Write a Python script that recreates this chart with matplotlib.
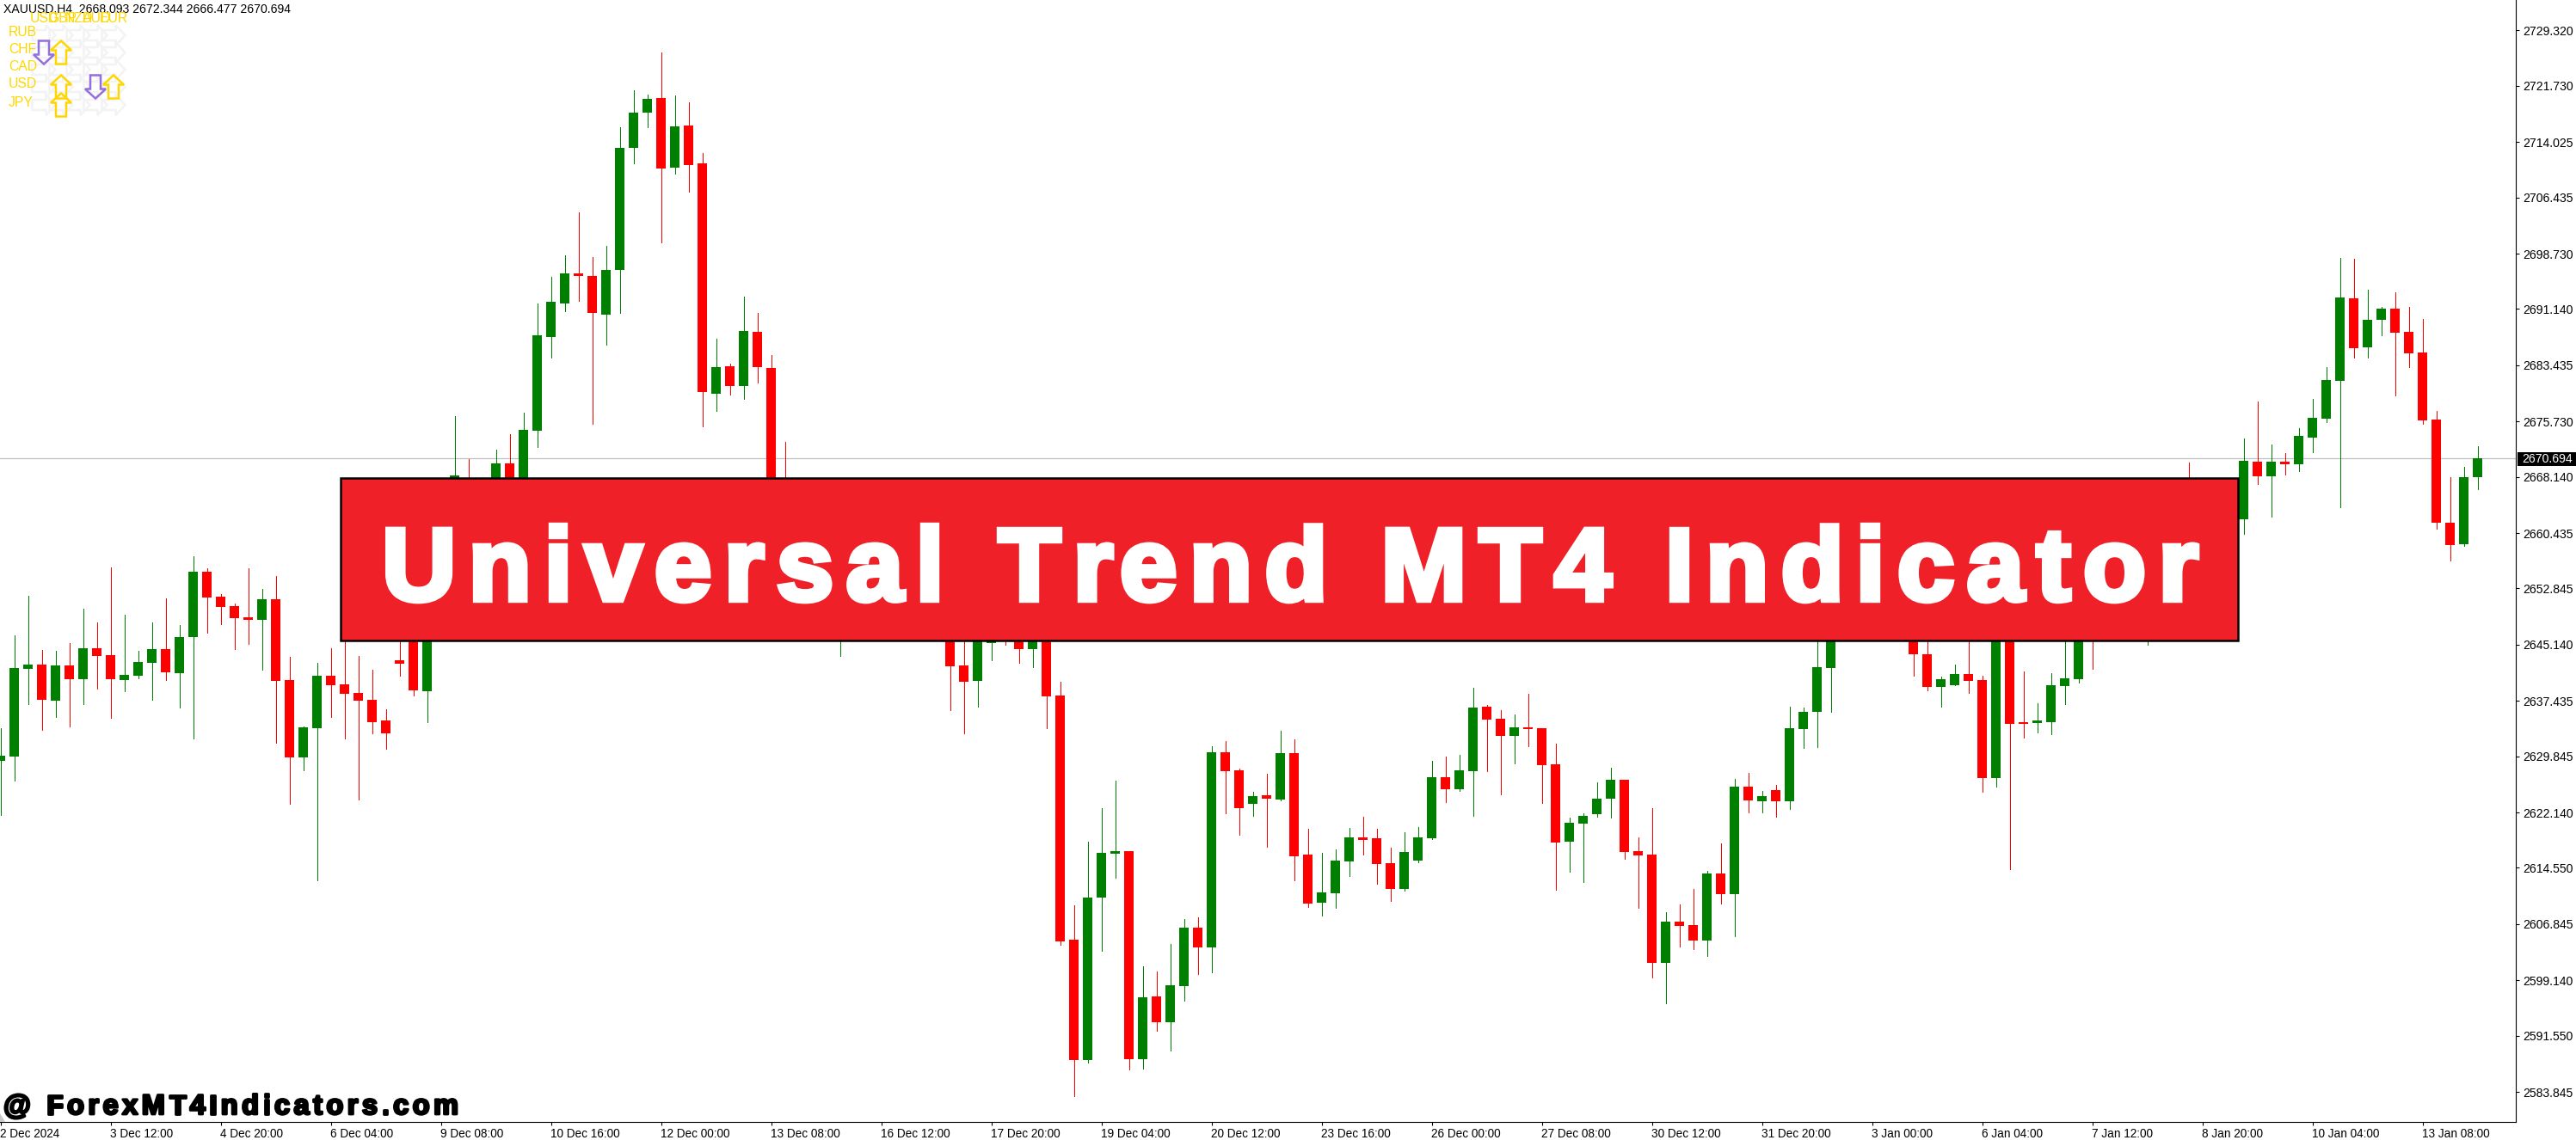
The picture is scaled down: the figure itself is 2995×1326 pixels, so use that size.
import numpy as np
import matplotlib
matplotlib.use("Agg")
import matplotlib.pyplot as plt
from matplotlib.patches import Rectangle, Polygon
import matplotlib.patheffects as pe

W, H = 2995, 1326

# candle values, one row = 10 bars
highs = [
    2633.69, 2646.41, 2651.83, 2644.41, 2644.29, 2645.35, 2650.07, 2648.18, 2655.72, 2649.24,
    2644.29, 2648.18, 2651.48, 2647.83, 2657.25, 2655.60, 2652.07, 2650.77, 2655.60, 2652.78,
    2654.54, 2643.47, 2633.92, 2642.64, 2644.65, 2646.88, 2643.59, 2641.70, 2636.28, 2648.30,
    2651.60, 2651.01, 2652.19, 2676.46, 2670.57, 2662.79, 2671.86, 2673.99, 2676.93, 2691.90,
    2695.55, 2698.49, 2704.39, 2698.26, 2699.79, 2716.05, 2721.12, 2720.53, 2726.30, 2720.41,
    2719.47, 2712.52, 2687.06, 2683.65, 2692.84, 2690.60, 2684.83, 2672.93, 2658.08, 2655.72,
    2654.54, 2653.37, 2653.37, 2655.72, 2656.90, 2655.72, 2654.54, 2653.37, 2653.37, 2651.01,
    2646.88, 2649.83, 2648.65, 2649.83, 2651.01, 2651.01, 2652.19, 2640.05, 2609.41, 2618.13,
    2622.73, 2626.50, 2616.84, 2601.05, 2600.34, 2604.11, 2607.53, 2607.76, 2631.21, 2631.92,
    2628.15, 2624.97, 2627.44, 2633.33, 2632.16, 2619.90, 2616.60, 2617.07, 2620.02, 2621.55,
    2619.90, 2617.31, 2619.43, 2620.14, 2629.21, 2629.80, 2630.04, 2639.23, 2636.87, 2636.16,
    2635.57, 2638.40, 2633.69, 2631.57, 2621.43, 2622.02, 2626.26, 2628.27, 2626.62, 2618.72,
    2622.73, 2608.47, 2609.53, 2611.65, 2614.13, 2617.90, 2626.74, 2627.56, 2625.09, 2625.91,
    2636.63, 2636.52, 2647.47, 2652.19, 2653.37, 2655.13, 2656.90, 2658.08, 2658.08, 2653.37,
    2651.01, 2640.76, 2642.41, 2647.47, 2640.88, 2648.65, 2648.65, 2641.46, 2637.11, 2641.23,
    2648.65, 2652.19, 2653.37, 2653.37, 2655.72, 2656.90, 2659.26, 2660.44, 2661.61, 2670.10,
    2666.33, 2666.33, 2667.51, 2673.40, 2678.46, 2672.57, 2671.39, 2674.81, 2678.82, 2683.18,
    2698.14, 2698.02, 2693.78, 2691.42, 2693.43, 2691.42, 2689.78, 2677.17, 2668.09, 2669.51,
    2672.344,
]
body_top = [
    2629.92, 2641.94, 2642.41, 2642.41, 2642.29, 2642.29, 2644.65, 2644.65, 2643.70, 2640.99,
    2642.76, 2644.53, 2644.53, 2646.18, 2655.13, 2655.13, 2651.72, 2650.42, 2648.89, 2651.36,
    2651.36, 2640.29, 2633.81, 2640.88, 2640.88, 2639.70, 2638.52, 2637.58, 2634.75, 2643.00,
    2651.01, 2649.24, 2651.01, 2668.33, 2663.97, 2662.20, 2669.98, 2669.98, 2674.57, 2687.54,
    2692.13, 2696.02, 2696.02, 2695.67, 2696.49, 2713.22, 2718.05, 2719.94, 2720.06, 2716.17,
    2716.29, 2711.10, 2683.18, 2683.29, 2688.13, 2688.01, 2683.06, 2660.44, 2656.90, 2654.54,
    2653.37, 2652.19, 2652.19, 2654.54, 2655.72, 2654.54, 2653.37, 2652.19, 2651.01, 2649.83,
    2642.29, 2648.65, 2645.82, 2648.65, 2648.65, 2649.24, 2651.01, 2638.17, 2604.70, 2610.48,
    2616.60, 2616.84, 2616.84, 2596.81, 2596.92, 2598.46, 2606.35, 2606.35, 2630.39, 2630.39,
    2627.91, 2624.38, 2624.50, 2630.27, 2630.27, 2616.37, 2611.18, 2615.54, 2618.72, 2618.72,
    2618.61, 2615.19, 2616.72, 2618.72, 2626.97, 2626.97, 2627.91, 2636.52, 2636.63, 2634.98,
    2633.81, 2633.81, 2633.69, 2628.74, 2620.73, 2621.67, 2624.03, 2626.62, 2626.62, 2616.84,
    2616.37, 2607.18, 2607.18, 2606.70, 2613.77, 2613.77, 2625.68, 2625.68, 2624.38, 2625.20,
    2633.69, 2635.93, 2642.05, 2648.65, 2652.19, 2653.37, 2655.72, 2656.31, 2656.90, 2649.83,
    2643.82, 2640.40, 2641.11, 2641.11, 2640.29, 2647.47, 2647.47, 2634.51, 2634.75, 2639.58,
    2640.52, 2651.01, 2651.01, 2652.19, 2654.54, 2655.72, 2658.08, 2659.26, 2660.44, 2663.97,
    2665.15, 2665.15, 2666.33, 2670.33, 2670.22, 2670.22, 2670.22, 2673.75, 2676.22, 2681.41,
    2692.72, 2692.60, 2689.66, 2691.19, 2691.19, 2688.01, 2685.18, 2675.99, 2661.85, 2668.09,
    2670.694,
]
body_bot = [
    2629.21, 2629.80, 2641.82, 2637.58, 2637.46, 2640.40, 2640.40, 2643.59, 2640.40, 2640.29,
    2640.88, 2642.64, 2641.35, 2641.23, 2646.18, 2651.60, 2650.30, 2648.77, 2648.53, 2648.53,
    2640.17, 2629.68, 2629.68, 2633.69, 2639.58, 2638.40, 2637.46, 2634.51, 2632.98, 2642.53,
    2638.87, 2638.75, 2648.65, 2662.79, 2661.61, 2659.85, 2665.15, 2666.33, 2665.74, 2674.46,
    2687.30, 2691.90, 2695.67, 2690.60, 2690.36, 2696.49, 2713.22, 2718.05, 2710.40, 2710.51,
    2710.87, 2679.76, 2679.52, 2680.58, 2680.58, 2683.18, 2659.26, 2656.31, 2654.54, 2652.19,
    2651.01, 2647.47, 2651.01, 2651.01, 2652.19, 2652.19, 2651.01, 2648.65, 2647.47, 2642.17,
    2640.05, 2640.17, 2645.35, 2646.88, 2644.53, 2644.53, 2638.05, 2604.47, 2588.21, 2588.21,
    2610.48, 2616.48, 2588.32, 2588.32, 2593.39, 2593.39, 2598.34, 2603.64, 2603.64, 2627.80,
    2622.73, 2623.32, 2624.03, 2623.91, 2616.13, 2609.65, 2609.77, 2611.06, 2615.42, 2618.37,
    2615.07, 2611.65, 2611.65, 2615.54, 2618.61, 2625.32, 2625.32, 2627.80, 2634.87, 2632.63,
    2632.63, 2633.57, 2628.62, 2618.02, 2618.13, 2620.61, 2621.90, 2624.03, 2616.72, 2616.25,
    2601.52, 2601.52, 2606.59, 2604.58, 2604.58, 2610.95, 2610.95, 2623.79, 2623.67, 2623.67,
    2623.67, 2633.57, 2635.93, 2641.94, 2648.65, 2651.01, 2652.19, 2655.13, 2652.19, 2643.82,
    2639.34, 2639.34, 2639.58, 2640.17, 2626.85, 2626.85, 2634.28, 2634.28, 2634.39, 2634.51,
    2639.46, 2640.40, 2647.47, 2648.65, 2651.01, 2653.37, 2654.54, 2656.90, 2658.08, 2661.61,
    2662.79, 2662.79, 2662.79, 2662.32, 2668.21, 2668.21, 2669.86, 2669.86, 2673.51, 2676.11,
    2681.29, 2685.77, 2685.89, 2689.66, 2687.89, 2685.06, 2675.87, 2661.85, 2658.79, 2658.90,
    2668.093,
]
lows = [
    2621.79, 2626.50, 2636.99, 2633.45, 2635.22, 2633.92, 2636.99, 2639.11, 2635.10, 2638.75,
    2640.52, 2637.58, 2640.29, 2636.52, 2632.27, 2646.77, 2647.94, 2644.53, 2645.23, 2641.70,
    2631.68, 2623.32, 2627.91, 2612.83, 2635.22, 2632.27, 2623.91, 2632.98, 2630.86, 2640.88,
    2638.17, 2634.51, 2647.47, 2658.08, 2659.26, 2658.08, 2663.97, 2664.56, 2663.97, 2672.22,
    2684.47, 2690.84, 2692.25, 2675.40, 2686.24, 2690.60, 2711.10, 2716.05, 2700.26, 2709.69,
    2707.21, 2675.05, 2677.17, 2679.41, 2678.82, 2681.06, 2656.90, 2653.37, 2652.19, 2651.01,
    2648.65, 2643.59, 2648.65, 2648.65, 2651.01, 2650.42, 2648.65, 2646.88, 2645.71, 2636.16,
    2632.98, 2636.63, 2643.00, 2645.12, 2642.64, 2642.05, 2633.69, 2603.99, 2583.26, 2587.85,
    2603.17, 2613.18, 2586.91, 2587.03, 2592.21, 2589.50, 2596.34, 2599.99, 2600.22, 2622.02,
    2619.08, 2621.67, 2617.43, 2623.79, 2612.83, 2609.18, 2608.00, 2609.06, 2613.42, 2616.37,
    2612.36, 2610.00, 2611.42, 2615.31, 2618.49, 2623.55, 2625.09, 2621.67, 2627.80, 2624.62,
    2628.86, 2631.21, 2623.44, 2611.54, 2614.01, 2612.60, 2621.55, 2621.43, 2615.78, 2609.06,
    2599.52, 2595.98, 2603.76, 2603.41, 2602.46, 2609.65, 2605.17, 2622.14, 2622.14, 2621.55,
    2622.61, 2630.98, 2631.10, 2635.93, 2646.88, 2648.65, 2651.01, 2652.19, 2649.83, 2640.88,
    2638.87, 2636.63, 2639.58, 2638.52, 2624.97, 2625.68, 2614.36, 2632.39, 2633.10, 2632.86,
    2636.99, 2639.93, 2641.82, 2646.30, 2647.47, 2651.01, 2645.12, 2654.54, 2656.90, 2659.26,
    2660.44, 2661.61, 2660.44, 2660.32, 2667.15, 2662.67, 2668.45, 2668.92, 2671.51, 2675.64,
    2663.97, 2684.47, 2684.47, 2687.54, 2679.29, 2683.18, 2675.40, 2661.02, 2656.66, 2658.67,
    2666.477,
]
direction = list(
    "gggrgrgrrg" "ggrggrrrrg" "rrggrrrrrr" "rgggrggrgg" "ggrrggggrg"
    "rrgrgrrrrg" "rgrggrrrgr" "rggrrgrrrg" "ggrgrggrgr" "rgrgrrgggr"
    "rrgggrggrr" "grrrggggrr" "rgrrgrgrgr" "ggggrggrrr" "rggrrgrrgg"
    "ggrggrgggr" "grggrgrggg" "grggrrrrrgg"
)

price_ticks = [2729.320, 2721.730, 2714.025, 2706.435, 2698.730, 2691.140, 2683.435,
               2675.730, 2668.140, 2660.435, 2652.845, 2645.140, 2637.435, 2629.845,
               2622.140, 2614.550, 2606.845, 2599.140, 2591.550, 2583.845]
date_labels = ["2 Dec 2024", "3 Dec 12:00", "4 Dec 20:00", "6 Dec 04:00", "9 Dec 08:00",
               "10 Dec 16:00", "12 Dec 00:00", "13 Dec 08:00", "16 Dec 12:00", "17 Dec 20:00",
               "19 Dec 04:00", "20 Dec 12:00", "23 Dec 16:00", "26 Dec 00:00", "27 Dec 08:00",
               "30 Dec 12:00", "31 Dec 20:00", "3 Jan 00:00", "6 Jan 04:00", "7 Jan 12:00",
               "8 Jan 20:00", "10 Jan 04:00", "13 Jan 08:00"]
last_price = 2670.694

# indicator panel, 1 = up, -1 = down, 0 = nothing
panel_rows = ["RUB", "CHF", "CAD", "USD", "JPY"]
panel_cols = ["USD", "GBP", "NZD", "AUD", "EUR"]
panel_state = [[0, 0, 0, 0, 0],
               [-1, 1, 0, 0, 0],
               [0, 0, 0, 0, 0],
               [0, 1, 0, -1, 1],
               [0, 1, 0, 0, 0]]

plt.rcParams['font.family'] = ['Liberation Sans', 'DejaVu Sans']

fig = plt.figure(figsize=(W / 100, H / 100), dpi=100, facecolor="white")


def fx(px):
    return px / W


def fy(px):
    return 1 - px / H


# chart area ends at x=2925, y=1305
ax = fig.add_axes([0, 1 - 1305 / H, 2925 / W, 1305 / H])
ax.set_xlim(-0.5 / 16, 2924.5 / 16)
ax.set_ylim(2733.49 - 1305 * 0.11783, 2733.49)

idx = np.arange(len(highs))
colors = ["#008000" if d == "g" else "#ff0000" for d in direction]
body_h = np.array(body_top) - np.array(body_bot)

ax.axhline(last_price, color="#c0c0c0", lw=0.9, zorder=1)
ax.vlines(idx, lows, highs, colors=colors, lw=0.72, antialiased=False, zorder=2)
ax.bar(idx, body_h, bottom=body_bot, width=11 / 16, color=colors, linewidth=0,
       antialiased=False, zorder=3)

for s in ["top", "left"]:
    ax.spines[s].set_visible(False)
for s in ["right", "bottom"]:
    ax.spines[s].set_linewidth(0.8)
ax.yaxis.tick_right()
ax.set_yticks(price_ticks)
ax.set_yticklabels(["%.3f" % p for p in price_ticks], fontsize=10.1)
ax.set_xticks(np.arange(len(date_labels)) * 8)
ax.set_xticklabels(date_labels, fontsize=9.8, ha="left")
ax.tick_params(axis="y", length=3, width=0.8, pad=3)
ax.tick_params(axis="x", length=3, width=0.8, pad=2)

# last price tag
fig.add_artist(Rectangle((fx(2927), fy(542)), 68 / W, 16 / H, transform=fig.transFigure,
                         facecolor="black", edgecolor="none", zorder=5))
fig.text(fx(2932), fy(534), "%.3f" % last_price, color="white", fontsize=10.1,
         va="center", ha="left", zorder=6)

# header line
fig.text(fx(4), fy(11), "XAUUSD,H4  2668.093 2672.344 2666.477 2670.694", fontsize=10.1,
         va="center", ha="left", color="black")


def panel_arrow(cx, cy, angle, color, z):
    # hollow block arrow in pixels, pointing up before the rotation
    pts = np.array([[-6, -13.5], [6, -13.5], [6, 2.5], [12, 2.5], [0, 13.5],
                    [-12, 2.5], [-6, 2.5]], dtype=float)
    a = np.radians(angle)
    rx = pts[:, 0] * np.cos(a) - pts[:, 1] * np.sin(a)
    ry = pts[:, 0] * np.sin(a) + pts[:, 1] * np.cos(a)
    xy = np.column_stack([fx(cx + rx), fy(cy - ry)])
    fig.add_artist(Polygon(xy, closed=True, transform=fig.transFigure, facecolor="none",
                           edgecolor=color, linewidth=1.8, joinstyle="miter", zorder=z))


# indicator panel
col_x = [51, 71, 91, 111, 132]
row_y = [41, 61, 81, 101, 122]
for x, name in zip([35, 56, 76, 96, 116], panel_cols):
    fig.text(fx(x), fy(21), name, color="#ffd700", fontsize=11.3, va="center", ha="left", zorder=6)
for y, name in zip(row_y, panel_rows):
    fig.text(fx(10), fy(y - 3), name, color="#ffd700", fontsize=11.3, va="center", ha="left", zorder=6)
for r, y in enumerate(row_y):
    for c, x in enumerate(col_x):
        panel_arrow(x, y, -90, "#f3f3f3", 2)
for r, y in enumerate(row_y):
    for c, x in enumerate(col_x):
        state = panel_state[r][c]
        if state > 0:
            panel_arrow(x, y, 0, "#ffd700", 4)
        elif state < 0:
            panel_arrow(x, y, 180, "#9370db", 4)


def spaced_text(txt, x0, x1, base_y, size, **kw):
    # the banner letters are spread out, place them one by one to fill x0..x1
    rend = fig.canvas.get_renderer()

    def width(s):
        t = fig.text(0, 0, s + "|", fontsize=size, fontweight="bold")
        w = t.get_window_extent(rend).width
        t.remove()
        return w
    bar_w = width("")
    total = width(txt) - bar_w
    gap = (x1 - x0 - total) / (len(txt) - 1)
    out = []
    for i, ch in enumerate(txt):
        px = x0 + width(txt[:i]) - bar_w + i * gap
        out.append(fig.text(fx(px), fy(base_y), ch, fontsize=size, fontweight="bold",
                            va="baseline", ha="left", **kw))
    return out


# title banner
fig.add_artist(Rectangle((fx(396), fy(745)), 2206 / W, 189 / H, transform=fig.transFigure,
                         facecolor="#ef2028", edgecolor="black", linewidth=1.8, zorder=7))
title = spaced_text("Universal Trend MT4 Indicator", 444, 2556, 698, 86, color="white", zorder=8)
for t in title:
    t.set_path_effects([pe.withStroke(linewidth=4.6, foreground="white", joinstyle="miter")])

# watermark
wm = spaced_text("@ ForexMT4Indicators.com", 4, 533, 1296, 23.5, color="black", zorder=8)
for t in wm:
    t.set_path_effects([pe.withStroke(linewidth=2.0, foreground="black")])
fig.add_artist(Polygon([[fx(0), fy(1295)], [fx(6), fy(1305)], [fx(0), fy(1305)]],
                       closed=True, transform=fig.transFigure, facecolor="#c8c8c8",
                       edgecolor="none", zorder=5))

fig.savefig("out.png", dpi=100, facecolor="white")
